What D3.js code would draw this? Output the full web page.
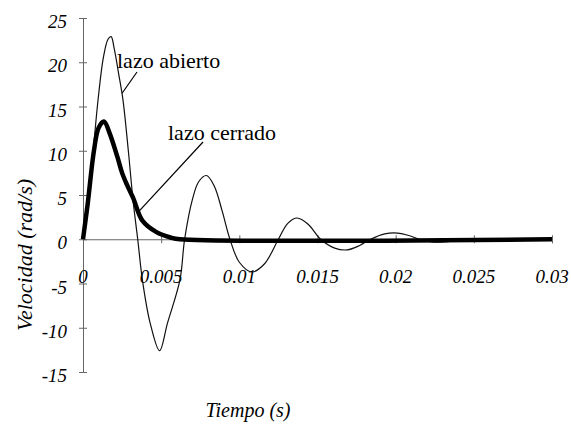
<!DOCTYPE html>
<html>
<head>
<meta charset="utf-8">
<script src="https://cdn.jsdelivr.net/npm/d3@7"></script>
</head>
<body style="margin:0">
<script>
// tick values and labels
const xTicks = [0, 0.005, 0.01, 0.015, 0.02, 0.025, 0.03];
const xTickLabels = ["0", "0.005", "0.01", "0.015", "0.02", "0.025", "0.03"];
const yTicks = [-15, -10, -5, 0, 5, 10, 15, 20, 25];

// lazo abierto (open loop): [tiempo, velocidad]
const openTime = [0, 0.0003, 0.0006, 0.00096, 0.0013, 0.0016, 0.0018, 0.002, 0.0023, 0.00256,
  0.0029, 0.0032, 0.0035, 0.0038, 0.0043, 0.0049, 0.0054, 0.0062, 0.0065, 0.007, 0.0074,
  0.0079, 0.0084, 0.0089, 0.0094, 0.01, 0.0108, 0.0116, 0.0125, 0.0131, 0.0137, 0.0144,
  0.0152, 0.0161, 0.0169, 0.0177, 0.0184, 0.0193, 0.0201, 0.0209, 0.0215, 0.0223, 0.0231,
  0.024, 0.0246, 0.03];
const openVel = [0, 4, 9, 15.7, 20.5, 22.6, 22.9, 21.5, 18.5, 15.7,
  10, 4.4, 0, -4.6, -9.5, -12.6, -9.5, -4.6, 0, 4.5, 6.5,
  7.2, 6, 3.2, 0, -2.6, -3.7, -2.8, 0, 1.8, 2.4, 1.7,
  0, -1.0, -1.2, -0.7, 0, 0.6, 0.7, 0.4, 0, -0.3, -0.3,
  -0.1, 0, 0];

// lazo cerrado (closed loop)
const closedTime = [0, 0.0003, 0.0007, 0.001, 0.00134, 0.0017, 0.0022, 0.0025, 0.0028,
  0.0032, 0.0038, 0.0047, 0.0056, 0.0062, 0.03];
const closedVel = [0, 4, 10, 12.6, 13.3, 12, 9.3, 7.5, 6.2, 4.7, 2.1, 0.8, 0.2, 0, 0];

const width = 571, height = 425;

const x = d3.scaleLinear().domain([0, 0.03]).range([83, 552]);
const y = d3.scaleLinear().domain([-15, 25]).range([372, 18]);

const svg = d3.select("body").append("svg")
    .attr("width", width)
    .attr("height", height)
    .style("font-family", '"Liberation Serif"');

// axes, ticks crossing the line on both sides
const xAxis = svg.append("g")
    .attr("transform", `translate(0,${y(0)})`)
    .call(d3.axisBottom(x).tickValues(xTicks).tickSize(4).tickFormat(""));
xAxis.selectAll(".tick line").attr("y1", -4);

const yAxis = svg.append("g")
    .attr("transform", `translate(${x(0)},0)`)
    .call(d3.axisLeft(y).tickValues(yTicks).tickSize(4).tickFormat(""));
yAxis.selectAll(".tick line").attr("x1", 4).attr("x2", -4);

svg.selectAll(".domain, .tick line")
    .attr("stroke", "#666")
    .attr("stroke-width", 1);

// all texts go in their own group
const labels = svg.append("g");

function addText(px, py, str, size, italic, anchor) {
  return labels.append("text")
      .attr("x", px).attr("y", py)
      .attr("text-anchor", anchor || "start")
      .style("font-family", '"Liberation Serif"')
      .style("font-style", italic ? "italic" : "normal")
      .style("font-size", size + "px")
      .text(str);
}

// tick labels
xTicks.forEach((d, i) => addText(x(d), y(0) + 44, xTickLabels[i], 19, true, "middle"));
yTicks.forEach(d => addText(67, y(d) + 10, String(d), 19, true, "end"));

// curves
const line = d3.line()
    .curve(d3.curveCatmullRom.alpha(0.5))
    .x(d => x(d[0]))
    .y(d => y(d[1]));

svg.append("path")
    .datum(d3.zip(openTime, openVel))
    .attr("d", line)
    .attr("fill", "none")
    .attr("stroke", "#111")
    .attr("stroke-width", 1.2);

svg.append("path")
    .datum(d3.zip(closedTime, closedVel))
    .attr("d", line)
    .attr("fill", "none")
    .attr("stroke", "#000")
    .attr("stroke-width", 4.5)
    .attr("stroke-linejoin", "round");

// annotations
addText(117, 68, "lazo abierto", 22, false);
svg.append("line")
    .attr("x1", 137).attr("y1", 72)
    .attr("x2", x(0.0025)).attr("y2", y(16.5))
    .attr("stroke", "#000").attr("stroke-width", 1.2);

addText(168, 140, "lazo cerrado", 22, false);
svg.append("line")
    .attr("x1", 203).attr("y1", 142)
    .attr("x2", x(0.0035)).attr("y2", y(3))
    .attr("stroke", "#000").attr("stroke-width", 1.2);

// axis titles
addText(248, 417, "Tiempo (s)", 20, true, "middle");
addText(0, 0, "Velocidad (rad/s)", 22, true, "middle")
    .attr("transform", "translate(32,255) rotate(-90)");
</script>
</body>
</html>
